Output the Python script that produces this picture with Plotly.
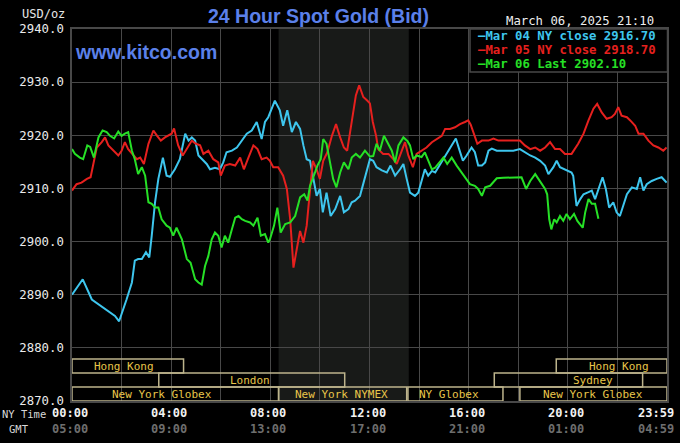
import plotly.graph_objects as go

# ---------------- data (minutes after NY midnight, price USD/oz) ----------------
cyan_t = [0, 26, 48, 60, 76, 92, 104, 114, 120, 132, 145, 152, 160, 169, 179, 187, 193, 201, 209, 220, 229, 237,
          249, 261, 274, 282, 290, 298, 306, 314, 326, 334, 346, 358, 366, 374, 387, 399, 411, 423, 435, 447, 459, 467, 475, 483,
          491, 503, 511, 521, 532, 542, 552, 560, 568, 576, 584, 592, 600, 607, 616, 626, 637, 649, 658, 669, 677, 685, 697, 709, 721,
          729, 737, 750, 762, 771, 782, 794, 802, 810, 818, 830, 838, 846, 854, 862, 871, 879, 887, 897, 907, 919, 929, 937, 946, 955, 967,
          975, 983, 992, 1000, 1008, 1016, 1028, 1052, 1068, 1084, 1096, 1109, 1121, 1133, 1145, 1153, 1165, 1173, 1181, 1193, 1209,
          1213, 1221, 1230, 1238, 1250, 1258, 1266, 1274, 1284, 1292, 1300, 1310, 1318, 1326, 1333, 1343, 1355, 1367, 1375, 1383, 1391,
          1403, 1415, 1427, 1439]
cyan_v = [2890.0, 2892.9, 2889.1, 2888.4, 2887.5, 2886.6, 2886.0, 2885.0, 2886.3, 2889.1, 2892.3, 2896.4, 2896.7, 2896.7, 2898.0,
          2897.0, 2901.1, 2907.4, 2911.8, 2915.8, 2912.4, 2912.2,
          2913.6, 2915.5, 2920.3, 2919.0, 2919.6, 2919.0, 2916.2, 2915.5, 2914.6, 2913.6, 2913.9, 2913.6, 2914.9, 2916.8, 2917.1,
          2917.7, 2919.0, 2920.3, 2920.9, 2922.5, 2919.3, 2922.5, 2923.4, 2925.0,
          2926.5, 2924.7, 2921.8, 2924.7, 2920.6, 2922.5, 2921.2, 2918.1, 2915.5, 2915.2, 2911.8, 2908.6, 2909.9, 2905.5, 2909.2,
          2904.8, 2906.1, 2908.6, 2905.5, 2906.1, 2907.4, 2907.7, 2908.6, 2911.8, 2915.5,
          2915.2, 2914.0, 2913.4, 2913.0, 2914.3, 2912.4, 2913.6, 2914.6, 2911.8, 2909.2, 2908.6, 2909.2, 2911.4, 2913.6, 2912.4,
          2913.3, 2913.0, 2914.0, 2915.5, 2916.5, 2918.1, 2919.4, 2917.4, 2915.2, 2916.2, 2917.7,
          2916.8, 2914.3, 2914.3, 2914.9, 2917.1, 2917.5, 2917.1, 2917.1, 2917.1, 2917.4, 2916.8, 2916.2, 2915.8, 2915.2, 2914.3,
          2912.7, 2914.0, 2915.2, 2914.0, 2913.6, 2913.0,
          2912.4, 2906.7, 2908.0, 2908.9, 2909.3, 2909.6, 2908.0, 2909.9, 2912.1, 2909.9, 2906.4, 2907.4, 2905.5, 2904.8, 2906.4,
          2908.9, 2910.2, 2909.9, 2912.1, 2909.6, 2910.8, 2911.4, 2911.8, 2912.1, 2911.1]

red_t = [0, 11, 23, 36, 45, 52, 60, 72, 80, 88, 100, 112, 120, 128, 136, 148, 157, 165, 174, 185, 197, 206, 215, 225, 241,
         247, 257, 268, 278, 290, 300, 310, 318, 330, 342, 354, 360, 370, 382, 395, 407, 416, 427, 439, 449, 459, 471,
         479, 487, 499, 511, 520, 528, 536, 544, 552, 560, 568, 574, 583, 592, 600, 608, 618, 629, 639, 649, 658, 666, 677, 687,
         695, 705, 715, 721, 728, 736, 741, 753, 766, 778, 786, 798, 806, 814, 825, 834, 846, 858, 871, 883, 895, 903, 915, 927,
         939, 951, 959, 965, 971, 981, 992, 1008, 1020, 1032, 1052, 1068, 1084, 1096, 1109, 1121, 1133, 1145, 1157, 1169, 1181,
         1193, 1209, 1225, 1238, 1250, 1262, 1271, 1282, 1294, 1306, 1314, 1322, 1330, 1343, 1351, 1363, 1371, 1383, 1395, 1407,
         1419, 1431, 1439]
red_v = [2909.6, 2910.8, 2911.1, 2911.8, 2912.1, 2914.9, 2917.7, 2918.7, 2919.6, 2918.1, 2917.1, 2916.2, 2917.1, 2918.7, 2917.4,
         2916.2, 2915.5, 2915.8, 2914.6, 2918.4, 2920.9, 2919.9, 2919.0, 2919.6, 2920.3,
         2921.3, 2918.1, 2916.2, 2917.4, 2919.0, 2918.4, 2918.1, 2916.5, 2917.1, 2915.5, 2914.9, 2912.4, 2914.3, 2914.6, 2914.3,
         2915.8, 2913.6, 2915.8, 2918.1, 2917.4, 2915.5, 2915.8,
         2915.2, 2914.0, 2914.0, 2912.4, 2909.9, 2904.2, 2895.1, 2898.6, 2902.0, 2899.8, 2903.0, 2908.0, 2915.2, 2913.6, 2911.8,
         2915.2, 2916.8, 2919.9, 2922.1, 2919.6, 2917.7, 2917.1, 2922.5, 2927.5,
         2929.4, 2927.2, 2926.5, 2926.0, 2922.5, 2919.9, 2917.4, 2916.5, 2916.5, 2915.5, 2914.6, 2917.1, 2918.7, 2916.2, 2914.0,
         2916.5, 2917.1, 2917.7, 2918.7, 2919.3, 2919.9, 2921.2, 2921.2, 2921.5,
         2922.1, 2922.5, 2922.8, 2922.0, 2920.6, 2918.4, 2919.0, 2919.0, 2919.4, 2919.0, 2919.0, 2919.0, 2919.0, 2918.1, 2917.4,
         2917.7, 2917.1, 2917.7, 2918.7, 2917.4, 2917.4,
         2916.5, 2916.5, 2918.4, 2920.3, 2922.8, 2925.0, 2925.9, 2924.3, 2923.1, 2923.4, 2924.0, 2925.3, 2923.7, 2923.4, 2922.8,
         2921.8, 2920.3, 2920.3, 2919.0, 2918.1,
         2917.7, 2917.1, 2917.7]

green_t = [0, 7, 19, 27, 37, 44, 53, 64, 74, 84, 92, 102, 112, 120, 128, 136, 145, 152, 160, 169, 177, 185, 193, 201, 209, 217,
           229, 237, 245, 253, 266, 278, 287, 298, 306, 314, 322, 330, 338, 346, 354, 362, 370, 378, 387, 395, 403, 411, 419, 431,
           439, 449, 457, 467, 475, 479, 489, 497, 505, 516, 528, 540, 552, 562, 570, 576, 584, 594, 602, 608, 616, 624, 632, 640,
           649, 658, 669, 677, 687, 697, 709, 721, 729, 737, 745, 755, 763, 774, 782, 790, 802, 812, 818, 826, 834, 846, 854, 862,
           871, 879, 887, 899, 908, 919, 931, 943, 955, 963, 975, 983, 992, 1000, 1012, 1028, 1044, 1068, 1088, 1099, 1109, 1121,
           1133, 1145, 1150, 1155, 1160, 1167, 1173, 1181, 1189, 1197, 1205, 1215, 1223, 1236, 1242, 1250, 1258, 1266, 1274]
green_v = [2917.4, 2916.5, 2915.8, 2915.5, 2918.1, 2917.8, 2915.8, 2919.6, 2920.9, 2920.6, 2919.9, 2919.4, 2920.7, 2919.9, 2920.3,
           2920.6, 2917.1, 2915.5, 2912.7, 2914.0, 2912.4, 2907.4, 2907.1, 2906.4, 2906.4, 2904.2,
           2903.0, 2902.6, 2901.1, 2902.6, 2900.4, 2896.7, 2896.0, 2892.9, 2892.3, 2891.9, 2895.4, 2897.3, 2900.4, 2901.7, 2901.1,
           2898.9, 2901.1, 2899.8, 2902.3, 2904.5, 2904.8, 2904.2, 2903.9, 2903.6,
           2903.0, 2904.5, 2901.1, 2901.4, 2899.8, 2900.4, 2903.0, 2906.4, 2901.7, 2903.3, 2903.6, 2904.8, 2908.3, 2908.9, 2907.7,
           2910.5, 2912.1, 2914.3, 2915.5, 2919.3, 2918.4, 2914.9, 2911.8, 2910.2,
           2913.0, 2914.9, 2913.6, 2915.8, 2916.5, 2915.8, 2917.1, 2916.0, 2916.1, 2918.4, 2917.1, 2919.9, 2918.7, 2917.1, 2914.9,
           2918.1, 2919.6, 2918.9, 2918.1, 2915.5, 2916.2, 2915.9, 2916.8, 2915.2,
           2913.6, 2913.9, 2914.6, 2915.8, 2914.6, 2915.8, 2914.3, 2913.0, 2911.8, 2910.8, 2910.5, 2909.9, 2908.6, 2910.2, 2910.5,
           2911.9, 2912.0, 2912.0, 2912.1, 2909.9, 2911.4, 2912.7,
           2911.4, 2909.9, 2908.9, 2904.2, 2902.3, 2904.2, 2903.6, 2904.8, 2903.9, 2905.2, 2904.2, 2905.2, 2903.9, 2902.6, 2905.5,
           2908.0, 2907.1, 2907.1, 2904.3]

series_names = ["Mar 04 NY close", "Mar 05 NY close", "Mar 06 Last"]
series_marks = ["2916.70", "2918.70", "2902.10"]
series_colors = ["#3ec6ee", "#e6201e", "#26e026"]

time_labels = ["00:00", "04:00", "08:00", "12:00", "16:00", "20:00", "23:59"]
time_minutes = [0, 240, 480, 720, 960, 1200, 1439]
gmt_labels = ["05:00", "09:00", "13:00", "17:00", "21:00", "01:00", "04:59"]

# sessions: name, start, end (minutes), row (0 top), label centre (minutes)
session_names = ["Hong Kong", "Hong Kong", "London", "Sydney", "New York Globex", "New York NYMEX", "NY Globex", "New York Globex"]
session_start = [0, 1172, 210, 1022, 0, 500, 813, 1084]
session_end = [270, 1440, 660, 1381, 500, 810, 1043, 1440]
session_row = [0, 0, 1, 1, 2, 2, 2, 2]
session_label = [126, 1325, 430, 1260, 218, 653, 912, 1260]

nymex_open = [500, 815]

Y_MIN, Y_MAX = 2870, 2940
# ------------------------------------------------------------------------------

W, H = 680, 443
L, R, T, B = 72, 13, 29, 42
PW, PH = W - L - R, H - T - B


def px(x):
    return (x - L) / PW


def py(y):
    return (H - B - y) / PH


MONO = "DejaVu Sans Mono"
GRID = "#484848"

fig = go.Figure()
for t, v, c, n in zip([cyan_t, red_t, green_t], [cyan_v, red_v, green_v], series_colors, series_names):
    fig.add_trace(go.Scatter(x=t, y=v, mode="lines", name=n, line=dict(color=c, width=2), showlegend=False))

shapes = [dict(type="rect", xref="x", yref="y", x0=nymex_open[0], x1=nymex_open[1], y0=Y_MIN, y1=Y_MAX,
               fillcolor="#181a18", line=dict(width=0), layer="below")]
annotations = []

row_h = (Y_MAX - Y_MIN) * 14 / PH
for name, s, e, r, lab in zip(session_names, session_start, session_end, session_row, session_label):
    y1 = Y_MIN + row_h * (3 - r)
    y0 = Y_MIN if r == 2 else y1 - row_h
    shapes.append(dict(type="rect", xref="x", yref="y", x0=s, x1=e, y0=y0, y1=y1,
                       line=dict(color="#bdb48c", width=1.5), fillcolor="rgba(0,0,0,0)", layer="above"))
    annotations.append(dict(x=lab, y=(y0 + y1) / 2, xref="x", yref="y", text=name, showarrow=False,
                            font=dict(family=MONO, size=11, color="#e8c64a"), xanchor="center", yanchor="middle"))

# legend box
shapes.append(dict(type="rect", xref="paper", yref="paper", x0=px(470), x1=px(667.5), y0=py(72), y1=py(29),
                   fillcolor="#000000", line=dict(color=GRID, width=1.5), layer="above"))
for i, (n, m, c) in enumerate(zip(series_names, series_marks, series_colors)):
    annotations.append(dict(x=px(476), y=py(36.5 + 13.5 * i), xref="paper", yref="paper",
                            text="\u2014" + n + " " + m, showarrow=False, xanchor="left", yanchor="middle",
                            font=dict(family=MONO, size=12.3, color=c, weight="bold")))

# titles and labels
annotations += [
    dict(x=px(318), y=py(16), xref="paper", yref="paper", text="24 Hour Spot Gold (Bid)", showarrow=False,
         font=dict(family="Liberation Sans", size=19.5, color="#5b80ea", weight="bold"), xanchor="center", yanchor="middle"),
    dict(x=px(73), y=py(52), xref="paper", yref="paper", text="www.kitco.com", showarrow=False,
         font=dict(family="Liberation Sans", size=19.5, color="#5b80ea", weight="bold"), xanchor="left", yanchor="middle"),
    dict(x=px(656), y=py(21), xref="paper", yref="paper", text="March 06, 2025 21:10", showarrow=False,
         font=dict(family=MONO, size=12.3, color="#eeeeee"), xanchor="right", yanchor="middle"),
    dict(x=px(67), y=py(14), xref="paper", yref="paper", text="USD/oz", showarrow=False,
         font=dict(family=MONO, size=12, color="#e6e6e6"), xanchor="right", yanchor="middle"),
    dict(x=px(48), y=py(414), xref="paper", yref="paper", text="NY Time", showarrow=False,
         font=dict(family=MONO, size=10.5, color="#d8d8d8"), xanchor="right", yanchor="middle"),
    dict(x=px(31), y=py(429), xref="paper", yref="paper", text="GMT", showarrow=False,
         font=dict(family=MONO, size=10.5, color="#d8d8d8"), xanchor="right", yanchor="middle"),
]
for lab, g, m in zip(time_labels, gmt_labels, time_minutes):
    shift = -11 if m == 1439 else -2
    annotations.append(dict(x=m, y=py(413), xref="x", yref="paper", text=lab, showarrow=False, xshift=shift,
                            font=dict(family=MONO, size=12, color="#f2f2f2", weight="bold"),
                            xanchor="center", yanchor="middle"))
    annotations.append(dict(x=m, y=py(429), xref="x", yref="paper", text=g, showarrow=False, xshift=shift,
                            font=dict(family=MONO, size=12, color="#6e6e6e", weight="bold"),
                            xanchor="center", yanchor="middle"))

fig.update_layout(
    width=W, height=H, margin=dict(l=L, r=R, t=T, b=B),
    paper_bgcolor="#000000", plot_bgcolor="#000000",
    shapes=shapes, annotations=annotations, showlegend=False,
    xaxis=dict(range=[0, 1440], tickvals=list(range(0, 1441, 120)), showticklabels=False, ticks="",
               showgrid=True, gridcolor=GRID, gridwidth=1, zeroline=False,
               showline=True, linecolor=GRID, linewidth=1.5, mirror=True),
    yaxis=dict(range=[Y_MIN, Y_MAX], tickvals=list(range(Y_MIN, Y_MAX + 1, 10)), tickformat=".1f",
               ticks="", ticklabelstandoff=4, showgrid=True, gridcolor=GRID, gridwidth=1, zeroline=False,
               showline=True, linecolor=GRID, linewidth=1.5, mirror=True,
               tickfont=dict(family=MONO, size=12.3, color="#ececec")),
)

fig.write_html("out.html")
